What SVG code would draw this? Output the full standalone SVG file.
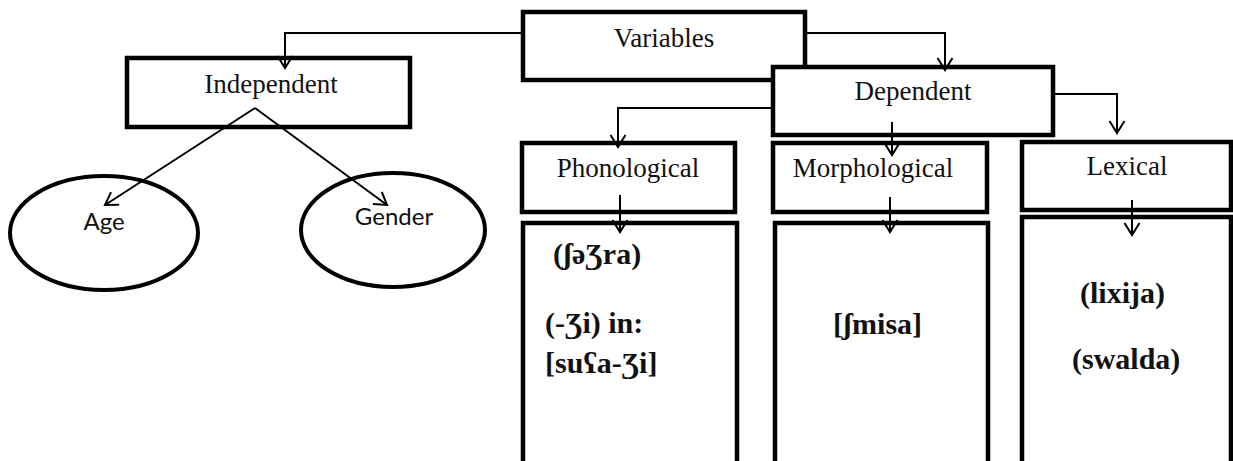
<svg xmlns="http://www.w3.org/2000/svg" width="1233" height="461" viewBox="0 0 1233 461">
<style>
.box{fill:#fff;stroke:#000;stroke-width:4.5}
.ell{fill:#fff;stroke:#000;stroke-width:4}
.hd{font-family:"Liberation Serif","Times New Roman",serif;font-size:27px;fill:#111;text-anchor:middle}
.ex{font-family:"Liberation Serif","DejaVu Serif",serif;font-size:30px;font-weight:bold;fill:#111}
.sn{font-family:Lato,"Liberation Sans",sans-serif;font-size:24px;fill:#111;text-anchor:middle}
.cn{fill:none;stroke:#000;stroke-width:2}
</style>
<defs>
<marker id="ah" markerUnits="userSpaceOnUse" viewBox="-13 -9 15 18" refX="0" refY="0" markerWidth="15" markerHeight="18" orient="auto">
<path d="M-12,-7.5 L0,0 L-12,7.5" fill="none" stroke="#000" stroke-width="2"/>
</marker>
</defs>
<g id="variables"><rect class="box" x="523" y="12" width="282" height="68"/><text class="hd" x="664" y="47">Variables</text></g>
<g id="independent"><rect class="box" x="127" y="58" width="283" height="69"/><text class="hd" x="271" y="93">Independent</text></g>
<g id="dependent"><rect class="box" x="773" y="67" width="280" height="68"/><text class="hd" x="913" y="100">Dependent</text></g>
<g id="age"><ellipse class="ell" cx="104" cy="233" rx="94" ry="57"/><text class="sn" x="104" y="230">Age</text></g>
<g id="gender"><ellipse class="ell" cx="393" cy="230" rx="92" ry="57"/><text class="sn" x="394" y="225">Gender</text></g>
<g id="phonological"><rect class="box" x="522" y="143" width="213" height="69"/><text class="hd" x="628" y="177">Phonological</text></g>
<g id="morphological"><rect class="box" x="773" y="143" width="214" height="69"/><text class="hd" x="873" y="177">Morphological</text></g>
<g id="lexical"><rect class="box" x="1022" y="142" width="209" height="68"/><text class="hd" x="1127" y="175">Lexical</text></g>
<g id="phon-examples"><rect class="box" x="523" y="223" width="214" height="245"/>
<text class="ex" x="553" y="264">(ʃəƷra)</text>
<text class="ex" x="545" y="333">(-Ʒi) in:</text>
<text class="ex" x="545" y="373">[suʕa-Ʒi]</text>
</g>
<g id="morph-examples"><rect class="box" x="775" y="223" width="213" height="245"/>
<text class="ex" x="833" y="334">[ʃmisa]</text>
</g>
<g id="lex-examples"><rect class="box" x="1022" y="217" width="209" height="251"/>
<text class="ex" x="1080" y="303">(lixija)</text>
<text class="ex" x="1072" y="369">(swalda)</text>
</g>
<g id="connectors">
<path class="cn" d="M523,33 H285 V68" marker-end="url(#ah)"/>
<path class="cn" d="M805,33 H945 V70" marker-end="url(#ah)"/>
<path class="cn" d="M255,108 L105,205" marker-end="url(#ah)"/>
<path class="cn" d="M255,108 L387,205" marker-end="url(#ah)"/>
<path class="cn" d="M773,108 H618 V147" marker-end="url(#ah)"/>
<path class="cn" d="M892,122 V155" marker-end="url(#ah)"/>
<path class="cn" d="M1053,94 H1117 V133" marker-end="url(#ah)"/>
<path class="cn" d="M620,195 V232" marker-end="url(#ah)"/>
<path class="cn" d="M890,197 V232" marker-end="url(#ah)"/>
<path class="cn" d="M1132,200 V235" marker-end="url(#ah)"/>
</g>
</svg>
